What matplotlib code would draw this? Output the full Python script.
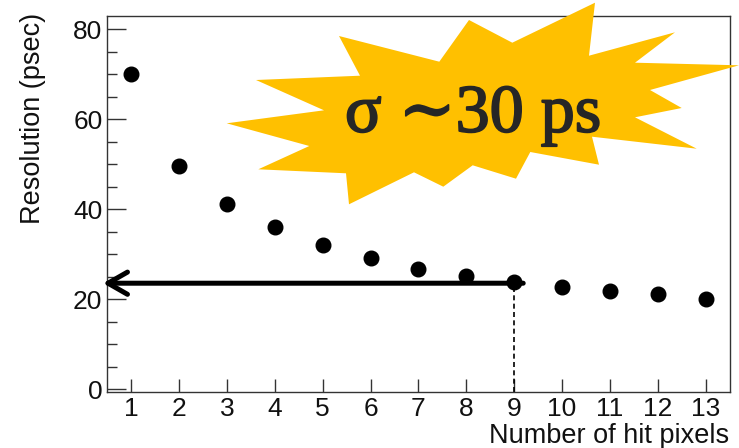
import matplotlib
matplotlib.use("Agg")
import matplotlib.pyplot as plt
import matplotlib.patheffects as pe
from matplotlib.patches import Polygon
from matplotlib.ticker import MultipleLocator

# data
hit_pixels = [1, 2, 3, 4, 5, 6, 7, 8, 9, 10, 11, 12, 13]
resolution = [70.0, 49.6, 41.2, 36.1, 32.1, 29.2, 26.7, 25.2, 23.8, 22.7, 21.8, 21.2, 20.2]
marked_n = 9
marked_res = 23.6
label_text = "σ ∼30 ps"

# starburst outline, in pixels of the 739x448 picture
burst_px = [(226.7, 123.3), (309.3, 146), (258.3, 169.3), (346, 173.3), (349, 204.3),
            (414, 172.3), (443.3, 186.7), (472.7, 165.3), (516, 178.7), (530.3, 152),
            (599, 164.7), (592, 136.7), (696.7, 148.7), (635, 117.3), (681.7, 108),
            (650, 90), (739, 65.3), (635, 62.7), (675, 32.3), (589, 55.7), (595, 2.7),
            (512.3, 42.7), (469, 20), (439.3, 61.7), (339, 36), (360, 75.7), (256, 80),
            (324, 110.3)]

W, H = 739, 448
plt.rcParams['font.family'] = ['Liberation Sans', 'DejaVu Sans']

fig = plt.figure(figsize=(W / 100, H / 100), dpi=100)
ax = fig.add_axes([107.3 / W, 1 - 392.3 / H, (729.5 - 107.3) / W, (392.3 - 16) / H])

ax.plot(hit_pixels, resolution, 'o', color='black', markersize=10.5, zorder=3)

ax.set_xlim(0.5, 13.5)
ax.set_ylim(-0.65, 83)
ax.xaxis.set_major_locator(MultipleLocator(1))
ax.yaxis.set_major_locator(MultipleLocator(20))
ax.yaxis.set_minor_locator(MultipleLocator(5))
ax.tick_params(which='both', direction='in', top=False, right=False, color='#333333',
               labelsize=19, pad=3.5, labelcolor='#111111')
ax.tick_params(axis='y', which='major', length=13.5, width=1)
ax.tick_params(axis='y', which='minor', length=7, width=1)
ax.tick_params(axis='x', which='major', length=9.5, width=1)
for sp in ax.spines.values():
    sp.set_color('#333333')
    sp.set_linewidth(1)

ax.set_xlabel('Number of hit pixels', fontsize=19.5, color='#111111',
              ha='right', va='baseline')
ax.xaxis.set_label_coords(1.0, -0.135)
ax.set_ylabel('Resolution (psec)', fontsize=19.5, color='#111111',
              ha='right', va='center')
ax.yaxis.set_label_coords(-0.119, 1.008)

# dashed drop line and arrow to the y axis
ax.plot([marked_n, marked_n], [-0.65, marked_res], color='black', lw=1.2,
        dashes=(3, 2), zorder=2)
ax.annotate('', xy=(0.41, marked_res), xytext=(marked_n + 0.19, marked_res),
            arrowprops=dict(arrowstyle='->,head_length=1.4,head_width=0.8',
                            lw=3.6, color='black', shrinkA=0, shrinkB=0,
                            mutation_scale=10),
            annotation_clip=False, zorder=4)

# yellow starburst with the label
burst = Polygon([(x / W, 1 - y / H) for x, y in burst_px], closed=True,
                transform=fig.transFigure, facecolor='#FFC000', edgecolor='none',
                zorder=5)
fig.add_artist(burst)
txt = fig.text(473 / W, 1 - 131.7 / H, label_text, ha='center', va='baseline',
               fontsize=49, color='#262626', family=['Liberation Serif', 'DejaVu Serif'],
               zorder=6)
# thicken the strokes a bit, the original face is heavier than Liberation Serif
txt.set_path_effects([pe.withStroke(linewidth=1.3, foreground='#262626')])

fig.savefig('out.png', dpi=100)
